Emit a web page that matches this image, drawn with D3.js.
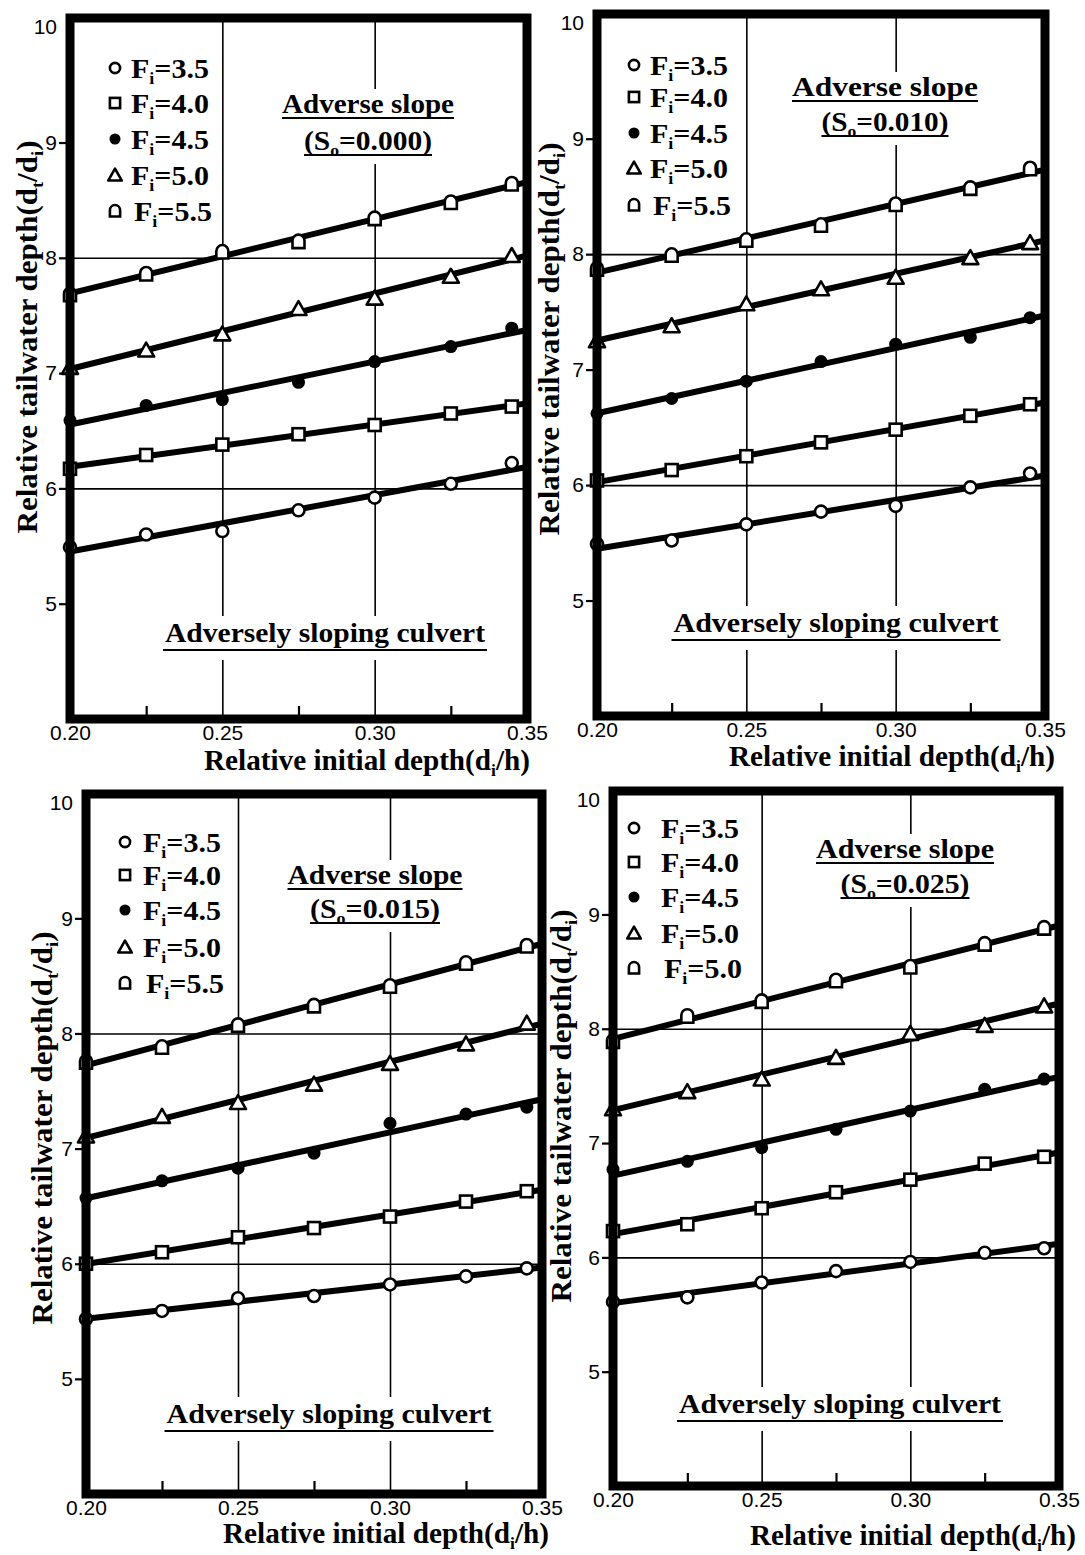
<!DOCTYPE html>
<html>
<head>
<meta charset="utf-8">
<script src="https://cdnjs.cloudflare.com/ajax/libs/d3/7.8.5/d3.min.js"></script>
<style>
  body { margin: 0; background: #fff; }
  svg { display: block; }
  .serif { font-family: "Liberation Serif", "Times New Roman", serif; font-weight: bold; fill: #000; }
  .tick text { font-family: "Liberation Sans Narrow", "Liberation Sans", Arial, sans-serif; font-size: 21px; fill: #000; }
</style>
</head>
<body>
<div id="chart"></div>
<script>
// x positions of the measured points (relative initial depth di/h)
const xValues = [0.20, 0.225, 0.25, 0.275, 0.30, 0.325, 0.345];
const markerKinds = ["circle", "square", "dot", "triangle", "arch"];
const legendLabels = ["3.5", "4.0", "4.5", "5.0", "5.5"];
const legendLabelsLast = ["3.5", "4.0", "4.5", "5.0", "5.0"];
const slopeLabels = ["0.000", "0.010", "0.015", "0.025"];
const yTickValues = [5, 6, 7, 8, 9, 10];
const xTickValues = [0.20, 0.25, 0.30, 0.35];
const xTickLabels = ["0.20", "0.25", "0.30", "0.35"];
const xMinorTicks = [0.225, 0.275, 0.325];
const xGrid = [0.25, 0.30];
const yGrid = [6, 8];

// So = 0.000
const s000Fi35 = [5.49, 5.60, 5.63, 5.81, 5.92, 6.04, 6.22];
const s000Fi40 = [6.17, 6.29, 6.38, 6.47, 6.55, 6.65, 6.71];
const s000Fi45 = [6.59, 6.72, 6.77, 6.92, 7.10, 7.23, 7.39];
const s000Fi50 = [7.05, 7.20, 7.34, 7.56, 7.65, 7.84, 8.02];
const s000Fi55 = [7.68, 7.86, 8.05, 8.14, 8.34, 8.48, 8.64];
// So = 0.010
const s010Fi35 = [5.49, 5.52, 5.66, 5.77, 5.82, 5.98, 6.10];
const s010Fi40 = [6.04, 6.13, 6.25, 6.37, 6.48, 6.60, 6.70];
const s010Fi45 = [6.62, 6.75, 6.90, 7.07, 7.22, 7.28, 7.45];
const s010Fi50 = [7.25, 7.38, 7.57, 7.70, 7.80, 7.97, 8.10];
const s010Fi55 = [7.87, 7.99, 8.12, 8.25, 8.43, 8.57, 8.74];
// So = 0.015
const s015Fi35 = [5.52, 5.59, 5.70, 5.72, 5.82, 5.89, 5.96];
const s015Fi40 = [6.00, 6.10, 6.23, 6.31, 6.41, 6.54, 6.63];
const s015Fi45 = [6.57, 6.72, 6.83, 6.96, 7.22, 7.30, 7.36];
const s015Fi50 = [7.11, 7.28, 7.40, 7.56, 7.74, 7.91, 8.09];
const s015Fi55 = [7.75, 7.88, 8.07, 8.24, 8.41, 8.61, 8.76];
// So = 0.025
const s025Fi35 = [5.61, 5.65, 5.78, 5.88, 5.96, 6.04, 6.08];
const s025Fi40 = [6.23, 6.29, 6.43, 6.57, 6.68, 6.82, 6.88];
const s025Fi45 = [6.77, 6.84, 6.96, 7.12, 7.28, 7.47, 7.56];
const s025Fi50 = [7.30, 7.45, 7.56, 7.75, 7.96, 8.03, 8.20];
const s025Fi55 = [7.89, 8.11, 8.24, 8.42, 8.54, 8.74, 8.88];

const panelSeries = [
  [s000Fi35, s000Fi40, s000Fi45, s000Fi50, s000Fi55],
  [s010Fi35, s010Fi40, s010Fi45, s010Fi50, s010Fi55],
  [s015Fi35, s015Fi40, s015Fi45, s015Fi50, s015Fi55],
  [s025Fi35, s025Fi40, s025Fi45, s025Fi50, s025Fi55]
];

// page layout of the four scanned panels
const layout = [
  { frame: [70, 18, 527, 719], legend: { mx: 115, tx: 131, rows: [68, 103, 139, 175, 211] },
    slope: { cx: 368, y1: 113, y2: 150, w1: 172, w2: 128 }, culvert: { cx: 325, y: 642, w: 320 },
    xTitle: { cx: 367, y: 770 }, yTitle: { x: 37, cy: 337 } },
  { frame: [597, 14, 1045, 716], legend: { mx: 634, tx: 650, rows: [65, 97, 133, 168, 205] },
    slope: { cx: 885, y1: 96, y2: 131, w1: 186, w2: 127 }, culvert: { cx: 836, y: 632, w: 325 },
    xTitle: { cx: 892, y: 766 }, yTitle: { x: 559, cy: 339 } },
  { frame: [86, 794, 542, 1494], legend: { mx: 125, tx: 143, rows: [842, 875, 910, 947, 983] },
    slope: { cx: 375, y1: 884, y2: 918, w1: 175, w2: 130 }, culvert: { cx: 329, y: 1423, w: 325 },
    xTitle: { cx: 386, y: 1543 }, yTitle: { x: 52, cy: 1128 } },
  { frame: [613, 791, 1059, 1486], legend: { mx: 634, tx: 661, rows: [828, 862, 897, 933, 968] },
    slope: { cx: 905, y1: 858, y2: 893, w1: 178, w2: 129 }, culvert: { cx: 840, y: 1413, w: 322 },
    xTitle: { cx: 913, y: 1545 }, yTitle: { x: 571, cy: 1106 } }
];

const svg = d3.select("#chart").append("svg")
  .attr("width", 1085)
  .attr("height", 1555);

function drawMarker(g, kind, x, y, s) {
  const sw = 2.6;
  if (kind === "circle") {
    g.append("circle").attr("cx", x).attr("cy", y).attr("r", 6 * s)
      .attr("fill", "#fff").attr("stroke", "#000").attr("stroke-width", sw);
  } else if (kind === "square") {
    g.append("rect").attr("x", x - 6 * s).attr("y", y - 6 * s)
      .attr("width", 12 * s).attr("height", 12 * s)
      .attr("fill", "#fff").attr("stroke", "#000").attr("stroke-width", sw);
  } else if (kind === "dot") {
    g.append("circle").attr("cx", x).attr("cy", y).attr("r", 6.5 * s).attr("fill", "#000");
  } else if (kind === "triangle") {
    g.append("path")
      .attr("d", `M${x},${y - 7.5 * s}L${x + 8 * s},${y + 6.5 * s}L${x - 8 * s},${y + 6.5 * s}Z`)
      .attr("fill", "#fff").attr("stroke", "#000").attr("stroke-width", sw).attr("stroke-linejoin", "round");
  } else {
    g.append("path")
      .attr("d", `M${x - 6 * s},${y + 6.5 * s}V${y - 1 * s}A${6 * s},${6 * s} 0 0 1 ${x + 6 * s},${y - 1 * s}V${y + 6.5 * s}Z`)
      .attr("fill", "#fff").attr("stroke", "#000").attr("stroke-width", sw);
  }
}

// least squares line through one series
function fit(ys) {
  const mx = d3.mean(xValues), my = d3.mean(ys);
  let num = 0, den = 0;
  xValues.forEach((x, i) => { num += (x - mx) * (ys[i] - my); den += (x - mx) * (x - mx); });
  const b = num / den;
  return x => my + b * (x - mx);
}

function subText(g, x, y, parts, size, len) {
  const t = g.append("text").attr("class", "serif").attr("x", x).attr("y", y)
    .style("font-size", size + "px");
  parts.forEach(p => {
    if (p.sub) {
      t.append("tspan").text(p.t).style("font-size", (size * 0.6) + "px").attr("dy", size * 0.22);
    } else {
      t.append("tspan").text(p.t).attr("dy", p.after ? -size * 0.22 : 0);
    }
  });
  if (len) t.attr("textLength", len).attr("lengthAdjust", "spacingAndGlyphs");
  return t;
}

layout.forEach((L, pi) => {
  const [x0, y0, x1, y1] = L.frame;
  const g = svg.append("g");
  const x = d3.scaleLinear().domain([0.20, 0.35]).range([x0, x1]);
  const y = d3.scaleLinear().domain([4, 10.08]).range([y1, y0]);

  // grid lines
  g.append("g").attr("transform", `translate(0,${y1})`)
    .call(d3.axisBottom(x).tickValues(xGrid).tickSize(-(y1 - y0)).tickFormat(""))
    .call(a => a.select(".domain").remove())
    .selectAll("line").attr("stroke", "#000").attr("stroke-width", 1.6);
  g.append("g").attr("transform", `translate(${x0},0)`)
    .call(d3.axisLeft(y).tickValues(yGrid).tickSize(-(x1 - x0)).tickFormat(""))
    .call(a => a.select(".domain").remove())
    .selectAll("line").attr("stroke", "#000").attr("stroke-width", 1.6);

  // white boxes behind the annotations break the grid lines
  const S = L.slope;
  g.append("rect").attr("x", S.cx - S.w1 / 2 - 6).attr("y", S.y1 - 24)
    .attr("width", S.w1 + 12).attr("height", S.y2 - S.y1 + 38).attr("fill", "#fff");
  const C = L.culvert;
  g.append("rect").attr("x", C.cx - C.w / 2 - 6).attr("y", C.y - 26)
    .attr("width", C.w + 12).attr("height", 44).attr("fill", "#fff");

  // minor ticks on the bottom edge
  g.append("g").attr("transform", `translate(0,${y1})`)
    .call(d3.axisBottom(x).tickValues(xMinorTicks).tickSize(-13).tickFormat(""))
    .call(a => a.select(".domain").remove())
    .selectAll("line").attr("stroke", "#000").attr("stroke-width", 2.2);

  // fitted lines and points
  const series = panelSeries[pi];
  series.forEach(ys => {
    const f = fit(ys);
    g.append("line")
      .attr("x1", x(0.20)).attr("y1", y(f(0.20)))
      .attr("x2", x(0.35)).attr("y2", y(f(0.35)))
      .attr("stroke", "#000").attr("stroke-width", 6);
  });
  series.forEach((ys, si) => {
    ys.forEach((v, i) => drawMarker(g, markerKinds[si], x(xValues[i]), y(v), 1));
  });

  // frame
  g.append("rect").attr("x", x0).attr("y", y0).attr("width", x1 - x0).attr("height", y1 - y0)
    .attr("fill", "none").attr("stroke", "#000").attr("stroke-width", 9);

  // axes labels
  const yAxis = g.append("g").attr("transform", `translate(${x0 - 4},0)`)
    .call(d3.axisLeft(y).tickValues(yTickValues).tickSize(7).tickPadding(2).tickFormat(d3.format("d")));
  yAxis.select(".domain").remove();
  yAxis.selectAll("line").attr("stroke", "#000").attr("stroke-width", 2.2);
  yAxis.selectAll(".tick").filter(d => d === 10).select("line").remove();

  const xAxis = g.append("g").attr("transform", `translate(0,${y1 + 2})`)
    .call(d3.axisBottom(x).tickValues(xTickValues).tickSize(0).tickPadding(4)
      .tickFormat((d, i) => xTickLabels[i]));
  xAxis.select(".domain").remove();

  // legend
  const labels = pi === 3 ? legendLabelsLast : legendLabels;
  labels.forEach((lab, k) => {
    const ry = L.legend.rows[k];
    drawMarker(g, markerKinds[k], L.legend.mx, ry, 0.85);
    subText(g, L.legend.tx + (k === 4 ? 3 : 0), ry + 10,
      [{ t: "F" }, { t: "i", sub: true }, { t: "=" + lab, after: true }], 28, 78);
  });

  // annotation "Adverse slope (So=...)"
  subText(g, S.cx - S.w1 / 2, S.y1, [{ t: "Adverse slope" }], 27, S.w1);
  g.append("line").attr("x1", S.cx - S.w1 / 2).attr("x2", S.cx + S.w1 / 2)
    .attr("y1", S.y1 + 5).attr("y2", S.y1 + 5).attr("stroke", "#000").attr("stroke-width", 2);
  subText(g, S.cx - S.w2 / 2, S.y2,
    [{ t: "(S" }, { t: "o", sub: true }, { t: "=" + slopeLabels[pi] + ")", after: true }], 27, S.w2);
  g.append("line").attr("x1", S.cx - S.w2 / 2).attr("x2", S.cx + S.w2 / 2)
    .attr("y1", S.y2 + 5).attr("y2", S.y2 + 5).attr("stroke", "#000").attr("stroke-width", 2);

  subText(g, C.cx - C.w / 2, C.y, [{ t: "Adversely sloping culvert" }], 28, C.w);
  g.append("line").attr("x1", C.cx - C.w / 2 - 2).attr("x2", C.cx + C.w / 2 + 2)
    .attr("y1", C.y + 8).attr("y2", C.y + 8).attr("stroke", "#000").attr("stroke-width", 2);

  // axis titles
  subText(g, L.xTitle.cx - 163, L.xTitle.y,
    [{ t: "Relative initial depth(d" }, { t: "i", sub: true }, { t: "/h)", after: true }], 29, 326);
  const yt = subText(svg, 0, 0,
    [{ t: "Relative tailwater depth(d" }, { t: "t", sub: true }, { t: "/d", after: true },
     { t: "i", sub: true }, { t: ")", after: true }], 29, 393);
  yt.attr("x", -196.5).attr("transform", `translate(${L.yTitle.x},${L.yTitle.cy}) rotate(-90)`);
});
</script>
</body>
</html>
